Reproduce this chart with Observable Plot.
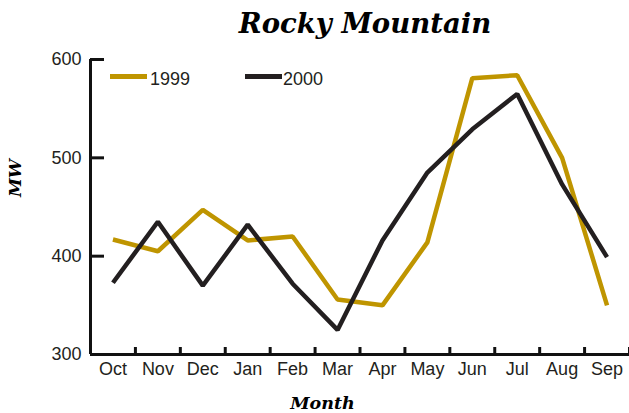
<!DOCTYPE html>
<html><head><meta charset="utf-8">
<script src="https://cdn.jsdelivr.net/npm/d3@7"></script>
<script src="https://cdn.jsdelivr.net/npm/@observablehq/plot@0.6"></script>
<style>
body{margin:0;background:#fff;}
#wrap{position:relative;width:629px;height:413px;font-family:"Liberation Sans",Arial,sans-serif;color:#231F20;overflow:hidden;}
#title{height:44px;box-sizing:border-box;padding-top:9px;padding-left:101px;text-align:center;font:bold italic 27.5px "DejaVu Serif",serif;line-height:28px;color:#000;white-space:nowrap;}
.sw{position:absolute;width:37px;height:4.5px;}
.lt{position:absolute;font-size:18px;line-height:18px;white-space:nowrap;color:#231F20;}
</style></head>
<body>
<div id="wrap">
  <div id="title">Rocky Mountain</div>
  <div id="chart"></div>
  <div id="legend"></div>
</div>
<script>
const months = ["Oct","Nov","Dec","Jan","Feb","Mar","Apr","May","Jun","Jul","Aug","Sep"];
const years = ["1999","2000"];
const mw1999 = [417,405,447,416,420,356,350,414,581,584,500,350];
const mw2000 = [373,435,370,432,372,325,416,485,529,565,473,399];
const yTicks = [300,400,500,600];
const colors = ["#BF9500","#231F20"];

const table = months.flatMap((m, i) => [
  {i, month: m, year: years[0], mw: mw1999[i]},
  {i, month: m, year: years[1], mw: mw2000[i]}
]);

const W = 629, H = 369, mL = 90, mR = 0, mT = 15, mB = 59;
const frameW = W - mL - mR, frameH = H - mT - mB;
const xDomain = [-0.5, months.length - 0.5];
const boundaries = d3.range(months.length + 1).map(i => i - 0.5);
const ink = "#111";

const chart = Plot.plot({
  width: W, height: H,
  marginLeft: mL, marginRight: mR, marginTop: mT, marginBottom: mB,
  style: {fontFamily: "'Liberation Sans', Arial, sans-serif", fontSize: "18px", color: "#231F20", background: "transparent", overflow: "visible"},
  x: {domain: xDomain, axis: null},
  y: {domain: [300, 600], axis: null},
  color: {domain: years, range: colors},
  marks: [
    Plot.axisY({ticks: yTicks, tickSize: 0, tickPadding: 9, tickFormat: d => String(d), fill: "#231F20", label: null}),
    Plot.axisX({ticks: d3.range(months.length), tickSize: 0, tickPadding: 8, tickFormat: i => months[i], fill: "#231F20", label: null}),
    Plot.tickY(yTicks, {y: d => d, stroke: ink, strokeWidth: 3, insetRight: frameW - 14}),
    Plot.tickX(boundaries, {x: d => d, stroke: ink, strokeWidth: 3, insetTop: frameH - 7}),
    Plot.ruleY([300], {stroke: ink, strokeWidth: 3}),
    Plot.ruleX([xDomain[0]], {stroke: ink, strokeWidth: 3}),
    Plot.line(table, {x: "i", y: "mw", stroke: "year", z: "year", strokeWidth: 4.5, strokeLinejoin: "miter", strokeLinecap: "butt"}),
    Plot.text(["MW"], {frameAnchor: "left", rotate: -90, dx: -74.5, dy: -10, fontFamily: "'DejaVu Serif', serif", fontWeight: "bold", fontStyle: "italic", fontSize: 17, fill: "#000"}),
    Plot.text(["Month"], {frameAnchor: "bottom", lineAnchor: "bottom", dx: -37.5, dy: 54, fontFamily: "'DejaVu Serif', serif", fontWeight: "bold", fontStyle: "italic", fontSize: 17.5, fill: "#000"})
  ]
});
document.getElementById("chart").appendChild(chart);

// legend
const legend = document.getElementById("legend");
const legendPos = [{sw: 110, tx: 150}, {sw: 245, tx: 283}];
years.forEach((y, k) => {
  const s = document.createElement("div");
  s.className = "sw";
  s.style.left = legendPos[k].sw + "px";
  s.style.top = "74px";
  s.style.background = colors[k];
  legend.appendChild(s);
  const t = document.createElement("div");
  t.className = "lt";
  t.style.left = legendPos[k].tx + "px";
  t.style.top = "70px";
  t.textContent = y;
  legend.appendChild(t);
});
</script>
</body></html>
